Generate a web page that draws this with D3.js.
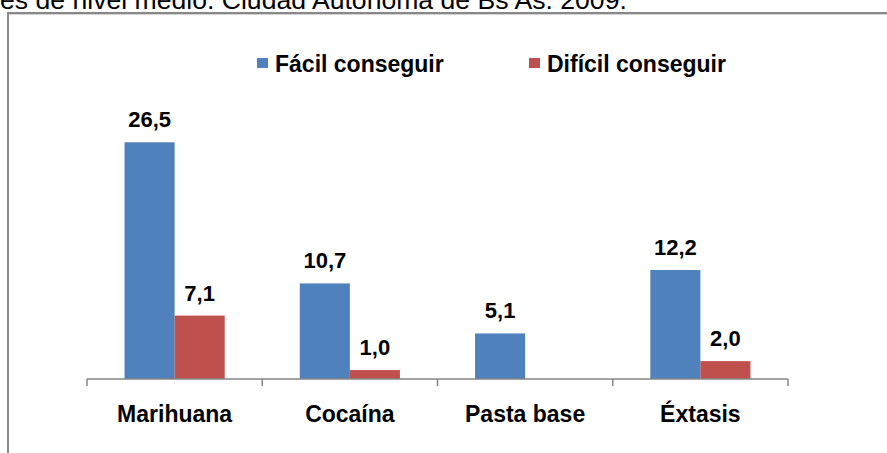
<!DOCTYPE html>
<html><head><meta charset="utf-8">
<script src="https://cdn.jsdelivr.net/npm/d3@7"></script>
<style>body{margin:0;background:#fff}svg{display:block}</style>
</head><body>
<script>
const categories = ["Marihuana", "Cocaína", "Pasta base", "Éxtasis"];
const seriesNames = ["Fácil conseguir", "Difícil conseguir"];
const facil = [26.5, 10.7, 5.1, 12.2];
const dificil = [7.1, 1.0, null, 2.0];
const colors = ["#4F81BD", "#C0504D"];
const titleText = "es de nivel medio. Ciudad Autónoma de Bs As. 2009.";

const W = 887, H = 453;
const svg = d3.select("body").append("svg").attr("width", W).attr("height", H);
const font = "'Liberation Sans', Arial, sans-serif";

// partial title at top (cut off in the reference too)
svg.append("text").attr("x", 0).attr("y", 9)
  .attr("font-family", font).attr("font-size", 26.6).attr("fill", "#000")
  .text(titleText);

// chart border (right and bottom edges lie outside the picture)
svg.append("line").attr("x1", 9).attr("x2", W).attr("y1", 14.5).attr("y2", 14.5)
  .attr("stroke", "#d4d4d4").attr("stroke-width", 1);
svg.append("rect").attr("x", 8).attr("y", 13).attr("width", 900).attr("height", 470)
  .attr("fill", "none").attr("stroke", "#888").attr("stroke-width", 2);

const x0 = d3.scaleBand().domain(categories).range([87, 788]).padding(0);
const x1 = d3.scaleBand().domain(seriesNames).range([0, x0.bandwidth()])
  .paddingInner(0).paddingOuter(0.75);
const y = d3.scaleLinear().domain([0, 30]).range([379, 111]);

const data = categories.map((c, i) => ({cat: c, vals: [facil[i], dificil[i]]}));

const g = svg.append("g");
data.forEach(d => {
  d.vals.forEach((v, j) => {
    if (v == null) return;
    const xx = x0(d.cat) + x1(seriesNames[j]);
    g.append("rect").attr("x", xx).attr("y", y(v))
      .attr("width", x1.bandwidth()).attr("height", y(0) - y(v))
      .attr("fill", colors[j]);
    g.append("text").attr("x", xx + x1.bandwidth() / 2).attr("y", y(v) - 15)
      .attr("text-anchor", "middle").attr("font-family", font)
      .attr("font-weight", "bold").attr("font-size", 22).attr("fill", "#000")
      .text(d3.format(".1f")(v).replace(".", ","));
  });
});

// x axis
const axis = svg.append("g").attr("transform", "translate(0,379)");
axis.append("line").attr("x1", 87).attr("x2", 788).attr("stroke", "#868686").attr("stroke-width", 1.5);
const tickPos = categories.map(c => x0(c)).concat([x0.range()[1]]);
axis.selectAll("line.tick").data(tickPos).enter().append("line")
  .attr("x1", d => d).attr("x2", d => d).attr("y1", 0).attr("y2", 7)
  .attr("stroke", "#868686").attr("stroke-width", 1.5);
axis.selectAll("text").data(categories).enter().append("text")
  .attr("x", d => x0(d) + x0.bandwidth() / 2).attr("y", 43)
  .attr("text-anchor", "middle").attr("font-family", font)
  .attr("font-weight", "bold").attr("font-size", 23).attr("fill", "#000")
  .text(d => d);

// legend
const legX = [257, 529];
seriesNames.forEach((s, i) => {
  svg.append("rect").attr("x", legX[i]).attr("y", 58).attr("width", 11).attr("height", 10)
    .attr("fill", colors[i]);
  svg.append("text").attr("x", legX[i] + 18).attr("y", 72)
    .attr("font-family", font).attr("font-weight", "bold").attr("font-size", 23)
    .attr("fill", "#000").text(s);
});
</script>
</body></html>
